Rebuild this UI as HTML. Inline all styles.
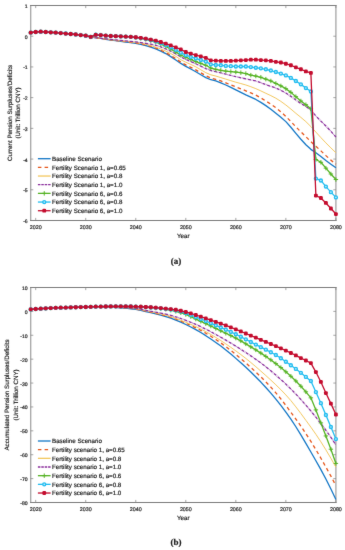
<!DOCTYPE html>
<html><head><meta charset="utf-8"><title>Figure</title>
<style>html,body{margin:0;padding:0;background:#fff;}body{width:345px;height:550px;overflow:hidden;font-family:"Liberation Sans",sans-serif;}svg{display:block}</style>
</head><body>
<svg width="345" height="550" viewBox="0 0 345 550" style="will-change:transform" font-family="Liberation Sans, sans-serif" stroke-linecap="butt">
<style>text{stroke:#1c1c1c;stroke-width:0.18px;text-rendering:geometricPrecision;}</style>
<defs><filter id="soft" x="0" y="0" width="345" height="550" filterUnits="userSpaceOnUse" color-interpolation-filters="sRGB"><feConvolveMatrix order="3" kernelMatrix="0.006 0.062 0.006 0.062 0.728 0.062 0.006 0.062 0.006" edgeMode="duplicate" preserveAlpha="false"/></filter></defs>
<g filter="url(#soft)">
<rect width="345" height="550" fill="#fff"/>
<path d="M30.7,5.0V221.0M335.9,5.0V221.0" stroke="#a6a6a6" stroke-width="1.3" fill="none"/>
<path d="M30.099999999999998,5.5H336.5M30.099999999999998,220.5H336.5" stroke="#7c7c7c" stroke-width="1.0" fill="none"/>
<path d="M35.70,220.5v-2.6M35.70,5.5v2.6" stroke="#808080" stroke-width="0.7"/>
<text x="35.70" y="228.80" font-size="5.3" text-anchor="middle" fill="#1c1c1c">2020</text>
<path d="M85.74,220.5v-2.6M85.74,5.5v2.6" stroke="#808080" stroke-width="0.7"/>
<text x="85.74" y="228.80" font-size="5.3" text-anchor="middle" fill="#1c1c1c">2030</text>
<path d="M135.77,220.5v-2.6M135.77,5.5v2.6" stroke="#808080" stroke-width="0.7"/>
<text x="135.77" y="228.80" font-size="5.3" text-anchor="middle" fill="#1c1c1c">2040</text>
<path d="M185.80,220.5v-2.6M185.80,5.5v2.6" stroke="#808080" stroke-width="0.7"/>
<text x="185.80" y="228.80" font-size="5.3" text-anchor="middle" fill="#1c1c1c">2050</text>
<path d="M235.83,220.5v-2.6M235.83,5.5v2.6" stroke="#808080" stroke-width="0.7"/>
<text x="235.83" y="228.80" font-size="5.3" text-anchor="middle" fill="#1c1c1c">2060</text>
<path d="M285.87,220.5v-2.6M285.87,5.5v2.6" stroke="#808080" stroke-width="0.7"/>
<text x="285.87" y="228.80" font-size="5.3" text-anchor="middle" fill="#1c1c1c">2070</text>
<path d="M335.90,220.5v-2.6M335.90,5.5v2.6" stroke="#808080" stroke-width="0.7"/>
<text x="335.90" y="228.80" font-size="5.3" text-anchor="middle" fill="#1c1c1c">2080</text>
<path d="M30.7,5.50h2.6M335.9,5.50h-2.6" stroke="#808080" stroke-width="0.7"/>
<text x="27.70" y="8.00" font-size="5.1" text-anchor="end" fill="#1c1c1c">1</text>
<path d="M30.7,36.21h2.6M335.9,36.21h-2.6" stroke="#808080" stroke-width="0.7"/>
<text x="27.70" y="38.71" font-size="5.1" text-anchor="end" fill="#1c1c1c">0</text>
<path d="M30.7,66.93h2.6M335.9,66.93h-2.6" stroke="#808080" stroke-width="0.7"/>
<text x="27.70" y="69.43" font-size="5.1" text-anchor="end" fill="#1c1c1c">-1</text>
<path d="M30.7,97.64h2.6M335.9,97.64h-2.6" stroke="#808080" stroke-width="0.7"/>
<text x="27.70" y="100.14" font-size="5.1" text-anchor="end" fill="#1c1c1c">-2</text>
<path d="M30.7,128.36h2.6M335.9,128.36h-2.6" stroke="#808080" stroke-width="0.7"/>
<text x="27.70" y="130.86" font-size="5.1" text-anchor="end" fill="#1c1c1c">-3</text>
<path d="M30.7,159.07h2.6M335.9,159.07h-2.6" stroke="#808080" stroke-width="0.7"/>
<text x="27.70" y="161.57" font-size="5.1" text-anchor="end" fill="#1c1c1c">-4</text>
<path d="M30.7,189.79h2.6M335.9,189.79h-2.6" stroke="#808080" stroke-width="0.7"/>
<text x="27.70" y="192.29" font-size="5.1" text-anchor="end" fill="#1c1c1c">-5</text>
<path d="M30.7,220.50h2.6M335.9,220.50h-2.6" stroke="#808080" stroke-width="0.7"/>
<text x="27.70" y="223.00" font-size="5.1" text-anchor="end" fill="#1c1c1c">-6</text>
<text x="183.30" y="237.70" font-size="6.2" text-anchor="middle" fill="#1c1c1c">Year</text>
<text transform="translate(11.5,113.00) rotate(-90)" font-size="6.2" text-anchor="middle" fill="#1c1c1c">Current Pension Surpluses/Deficits</text>
<text transform="translate(20.4,113.00) rotate(-90)" font-size="6.2" text-anchor="middle" fill="#1c1c1c">(Unit: Trillion CNY)</text>
<path d="M30.70,32.62 L35.70,32.00 L40.71,31.70 L45.71,32.00 L50.71,32.31 L55.72,32.62 L60.72,33.08 L65.72,33.54 L70.73,34.01 L75.73,34.47 L80.73,35.08 L85.74,35.70 L90.74,36.93 L95.74,37.75 L100.75,38.47 L105.75,39.25 L110.75,40.01 L115.76,40.70 L120.76,41.35 L125.76,42.01 L130.77,42.67 L135.77,43.40 L140.77,44.36 L145.78,45.56 L150.78,47.09 L155.78,48.94 L160.79,51.07 L165.79,53.56 L170.79,56.64 L175.80,60.03 L180.80,63.42 L185.80,66.32 L190.80,69.00 L195.81,71.74 L200.81,74.76 L205.81,77.59 L210.82,79.74 L215.82,80.98 L220.82,82.82 L225.83,84.98 L230.83,87.44 L235.83,89.91 L240.84,92.39 L245.84,94.84 L250.84,97.08 L255.85,99.46 L260.85,102.34 L265.85,105.62 L270.86,109.32 L275.86,113.32 L280.86,117.26 L285.87,121.63 L290.87,127.26 L295.87,133.34 L300.88,139.22 L305.88,144.73 L310.88,149.35 L315.89,152.74 L320.89,156.54 L325.89,160.44 L330.90,164.17 L335.90,167.83" fill="none" stroke="#1477C6" stroke-width="1.3" stroke-linejoin="round"/>
<path d="M30.70,32.62 L35.70,32.00 L40.71,31.70 L45.71,32.00 L50.71,32.31 L55.72,32.62 L60.72,33.08 L65.72,33.54 L70.73,34.01 L75.73,34.47 L80.73,35.08 L85.74,35.70 L90.74,36.93 L95.74,37.73 L100.75,38.41 L105.75,39.15 L110.75,39.86 L115.76,40.50 L120.76,41.10 L125.76,41.71 L130.77,42.29 L135.77,42.94 L140.77,43.83 L145.78,44.94 L150.78,46.32 L155.78,48.02 L160.79,50.14 L165.79,52.64 L170.79,55.48 L175.80,58.65 L180.80,62.19 L185.80,64.93 L190.80,67.35 L195.81,69.89 L200.81,72.86 L205.81,75.74 L210.82,78.05 L215.82,79.44 L220.82,80.98 L225.83,82.82 L230.83,84.98 L235.83,86.83 L240.84,88.79 L245.84,90.83 L250.84,92.89 L255.85,95.14 L260.85,97.91 L265.85,101.00 L270.86,104.22 L275.86,107.77 L280.86,111.85 L285.87,116.40 L290.87,121.54 L295.87,126.87 L300.88,131.83 L305.88,136.72 L310.88,141.65 L315.89,146.31 L320.89,150.89 L325.89,155.60 L330.90,160.13 L335.90,164.14" fill="none" stroke="#E5551A" stroke-width="1.3" stroke-dasharray="3.5 3.1" stroke-linejoin="round"/>
<path d="M30.70,32.62 L35.70,32.00 L40.71,31.70 L45.71,32.00 L50.71,32.31 L55.72,32.62 L60.72,33.08 L65.72,33.54 L70.73,34.01 L75.73,34.47 L80.73,35.08 L85.74,35.70 L90.74,36.93 L95.74,37.70 L100.75,38.35 L105.75,39.04 L110.75,39.70 L115.76,40.30 L120.76,40.85 L125.76,41.40 L130.77,41.90 L135.77,42.48 L140.77,43.29 L145.78,44.32 L150.78,45.58 L155.78,47.10 L160.79,48.94 L165.79,51.10 L170.79,53.54 L175.80,56.34 L180.80,59.72 L185.80,62.25 L190.80,64.44 L195.81,66.81 L200.81,69.78 L205.81,72.66 L210.82,74.82 L215.82,76.05 L220.82,77.59 L225.83,79.13 L230.83,80.67 L235.83,82.21 L240.84,83.56 L245.84,84.98 L250.84,86.71 L255.85,88.68 L260.85,90.90 L265.85,93.30 L270.86,95.64 L275.86,98.22 L280.86,101.39 L285.87,105.00 L290.87,109.05 L295.87,113.32 L300.88,117.38 L305.88,121.63 L310.88,126.56 L315.89,132.10 L320.89,137.58 L325.89,142.88 L330.90,147.92 L335.90,152.74" fill="none" stroke="#F3C85F" stroke-width="1.0" stroke-linejoin="round"/>
<path d="M30.70,32.62 L35.70,32.00 L40.71,31.70 L45.71,32.00 L50.71,32.31 L55.72,32.62 L60.72,33.08 L65.72,33.54 L70.73,34.01 L75.73,34.47 L80.73,35.08 L85.74,35.70 L90.74,36.93 L95.74,37.66 L100.75,38.26 L105.75,38.84 L110.75,39.40 L115.76,39.93 L120.76,40.44 L125.76,40.94 L130.77,41.37 L135.77,41.86 L140.77,42.56 L145.78,43.40 L150.78,44.23 L155.78,45.25 L160.79,46.88 L165.79,48.94 L170.79,51.24 L175.80,53.87 L180.80,56.95 L185.80,59.37 L190.80,61.52 L195.81,63.73 L200.81,66.26 L205.81,68.66 L210.82,70.50 L215.82,71.74 L220.82,72.97 L225.83,74.20 L230.83,75.43 L235.83,76.66 L240.84,77.76 L245.84,78.82 L250.84,79.83 L255.85,80.98 L260.85,82.72 L265.85,84.67 L270.86,86.31 L275.86,88.06 L280.86,90.30 L285.87,92.99 L290.87,96.39 L295.87,100.07 L300.88,103.46 L305.88,106.54 L310.88,109.93 L315.89,116.09 L320.89,121.10 L325.89,125.94 L330.90,131.33 L335.90,137.03" fill="none" stroke="#8A2E9C" stroke-width="1.3" stroke-dasharray="3.0 0.75 0.5 0.75" stroke-linejoin="round"/>
<path d="M30.70,32.62 L35.70,32.00 L40.71,31.70 L45.71,32.00 L50.71,32.31 L55.72,32.62 L60.72,33.08 L65.72,33.54 L70.73,34.01 L75.73,34.47 L80.73,35.08 L85.74,35.70 L90.74,36.93 L95.74,34.78 L100.75,35.08 L105.75,35.70 L110.75,36.01 L115.76,36.19 L120.76,36.41 L125.76,36.62 L130.77,36.81 L135.77,37.55 L140.77,38.40 L145.78,39.40 L150.78,40.64 L155.78,42.17 L160.79,44.14 L165.79,46.48 L170.79,49.12 L175.80,52.02 L180.80,55.10 L185.80,57.26 L190.80,59.46 L195.81,61.57 L200.81,63.35 L205.81,65.27 L210.82,68.04 L215.82,69.27 L220.82,70.31 L225.83,71.12 L230.83,71.59 L235.83,72.04 L240.84,72.69 L245.84,73.58 L250.84,75.12 L255.85,76.05 L260.85,77.28 L265.85,79.13 L270.86,80.98 L275.86,83.44 L280.86,85.90 L285.87,88.68 L290.87,92.37 L295.87,96.68 L300.88,101.00 L305.88,104.69 L310.88,108.70 L315.89,159.52 L320.89,162.29 L325.89,168.14 L330.90,173.99 L335.90,179.54" fill="none" stroke="#55B324" stroke-width="1.3" stroke-linejoin="round"/>
<path d="M28.50,32.62h4.4M30.70,30.42v4.4" stroke="#55B324" stroke-width="1.0" fill="none"/>
<path d="M33.50,32.00h4.4M35.70,29.80v4.4" stroke="#55B324" stroke-width="1.0" fill="none"/>
<path d="M38.51,31.70h4.4M40.71,29.50v4.4" stroke="#55B324" stroke-width="1.0" fill="none"/>
<path d="M43.51,32.00h4.4M45.71,29.80v4.4" stroke="#55B324" stroke-width="1.0" fill="none"/>
<path d="M48.51,32.31h4.4M50.71,30.11v4.4" stroke="#55B324" stroke-width="1.0" fill="none"/>
<path d="M53.52,32.62h4.4M55.72,30.42v4.4" stroke="#55B324" stroke-width="1.0" fill="none"/>
<path d="M58.52,33.08h4.4M60.72,30.88v4.4" stroke="#55B324" stroke-width="1.0" fill="none"/>
<path d="M63.52,33.54h4.4M65.72,31.34v4.4" stroke="#55B324" stroke-width="1.0" fill="none"/>
<path d="M68.53,34.01h4.4M70.73,31.81v4.4" stroke="#55B324" stroke-width="1.0" fill="none"/>
<path d="M73.53,34.47h4.4M75.73,32.27v4.4" stroke="#55B324" stroke-width="1.0" fill="none"/>
<path d="M78.53,35.08h4.4M80.73,32.88v4.4" stroke="#55B324" stroke-width="1.0" fill="none"/>
<path d="M83.54,35.70h4.4M85.74,33.50v4.4" stroke="#55B324" stroke-width="1.0" fill="none"/>
<path d="M88.54,36.93h4.4M90.74,34.73v4.4" stroke="#55B324" stroke-width="1.0" fill="none"/>
<path d="M93.54,34.78h4.4M95.74,32.58v4.4" stroke="#55B324" stroke-width="1.0" fill="none"/>
<path d="M98.55,35.08h4.4M100.75,32.88v4.4" stroke="#55B324" stroke-width="1.0" fill="none"/>
<path d="M103.55,35.70h4.4M105.75,33.50v4.4" stroke="#55B324" stroke-width="1.0" fill="none"/>
<path d="M108.55,36.01h4.4M110.75,33.81v4.4" stroke="#55B324" stroke-width="1.0" fill="none"/>
<path d="M113.56,36.19h4.4M115.76,33.99v4.4" stroke="#55B324" stroke-width="1.0" fill="none"/>
<path d="M118.56,36.41h4.4M120.76,34.21v4.4" stroke="#55B324" stroke-width="1.0" fill="none"/>
<path d="M123.56,36.62h4.4M125.76,34.42v4.4" stroke="#55B324" stroke-width="1.0" fill="none"/>
<path d="M128.57,36.81h4.4M130.77,34.61v4.4" stroke="#55B324" stroke-width="1.0" fill="none"/>
<path d="M133.57,37.55h4.4M135.77,35.35v4.4" stroke="#55B324" stroke-width="1.0" fill="none"/>
<path d="M138.57,38.40h4.4M140.77,36.20v4.4" stroke="#55B324" stroke-width="1.0" fill="none"/>
<path d="M143.58,39.40h4.4M145.78,37.20v4.4" stroke="#55B324" stroke-width="1.0" fill="none"/>
<path d="M148.58,40.64h4.4M150.78,38.44v4.4" stroke="#55B324" stroke-width="1.0" fill="none"/>
<path d="M153.58,42.17h4.4M155.78,39.97v4.4" stroke="#55B324" stroke-width="1.0" fill="none"/>
<path d="M158.59,44.14h4.4M160.79,41.94v4.4" stroke="#55B324" stroke-width="1.0" fill="none"/>
<path d="M163.59,46.48h4.4M165.79,44.28v4.4" stroke="#55B324" stroke-width="1.0" fill="none"/>
<path d="M168.59,49.12h4.4M170.79,46.92v4.4" stroke="#55B324" stroke-width="1.0" fill="none"/>
<path d="M173.60,52.02h4.4M175.80,49.82v4.4" stroke="#55B324" stroke-width="1.0" fill="none"/>
<path d="M178.60,55.10h4.4M180.80,52.90v4.4" stroke="#55B324" stroke-width="1.0" fill="none"/>
<path d="M183.60,57.26h4.4M185.80,55.06v4.4" stroke="#55B324" stroke-width="1.0" fill="none"/>
<path d="M188.60,59.46h4.4M190.80,57.26v4.4" stroke="#55B324" stroke-width="1.0" fill="none"/>
<path d="M193.61,61.57h4.4M195.81,59.37v4.4" stroke="#55B324" stroke-width="1.0" fill="none"/>
<path d="M198.61,63.35h4.4M200.81,61.15v4.4" stroke="#55B324" stroke-width="1.0" fill="none"/>
<path d="M203.61,65.27h4.4M205.81,63.07v4.4" stroke="#55B324" stroke-width="1.0" fill="none"/>
<path d="M208.62,68.04h4.4M210.82,65.84v4.4" stroke="#55B324" stroke-width="1.0" fill="none"/>
<path d="M213.62,69.27h4.4M215.82,67.07v4.4" stroke="#55B324" stroke-width="1.0" fill="none"/>
<path d="M218.62,70.31h4.4M220.82,68.11v4.4" stroke="#55B324" stroke-width="1.0" fill="none"/>
<path d="M223.63,71.12h4.4M225.83,68.92v4.4" stroke="#55B324" stroke-width="1.0" fill="none"/>
<path d="M228.63,71.59h4.4M230.83,69.39v4.4" stroke="#55B324" stroke-width="1.0" fill="none"/>
<path d="M233.63,72.04h4.4M235.83,69.84v4.4" stroke="#55B324" stroke-width="1.0" fill="none"/>
<path d="M238.64,72.69h4.4M240.84,70.49v4.4" stroke="#55B324" stroke-width="1.0" fill="none"/>
<path d="M243.64,73.58h4.4M245.84,71.38v4.4" stroke="#55B324" stroke-width="1.0" fill="none"/>
<path d="M248.64,75.12h4.4M250.84,72.92v4.4" stroke="#55B324" stroke-width="1.0" fill="none"/>
<path d="M253.65,76.05h4.4M255.85,73.85v4.4" stroke="#55B324" stroke-width="1.0" fill="none"/>
<path d="M258.65,77.28h4.4M260.85,75.08v4.4" stroke="#55B324" stroke-width="1.0" fill="none"/>
<path d="M263.65,79.13h4.4M265.85,76.93v4.4" stroke="#55B324" stroke-width="1.0" fill="none"/>
<path d="M268.66,80.98h4.4M270.86,78.78v4.4" stroke="#55B324" stroke-width="1.0" fill="none"/>
<path d="M273.66,83.44h4.4M275.86,81.24v4.4" stroke="#55B324" stroke-width="1.0" fill="none"/>
<path d="M278.66,85.90h4.4M280.86,83.70v4.4" stroke="#55B324" stroke-width="1.0" fill="none"/>
<path d="M283.67,88.68h4.4M285.87,86.48v4.4" stroke="#55B324" stroke-width="1.0" fill="none"/>
<path d="M288.67,92.37h4.4M290.87,90.17v4.4" stroke="#55B324" stroke-width="1.0" fill="none"/>
<path d="M293.67,96.68h4.4M295.87,94.48v4.4" stroke="#55B324" stroke-width="1.0" fill="none"/>
<path d="M298.68,101.00h4.4M300.88,98.80v4.4" stroke="#55B324" stroke-width="1.0" fill="none"/>
<path d="M303.68,104.69h4.4M305.88,102.49v4.4" stroke="#55B324" stroke-width="1.0" fill="none"/>
<path d="M308.68,108.70h4.4M310.88,106.50v4.4" stroke="#55B324" stroke-width="1.0" fill="none"/>
<path d="M313.69,159.52h4.4M315.89,157.32v4.4" stroke="#55B324" stroke-width="1.0" fill="none"/>
<path d="M318.69,162.29h4.4M320.89,160.09v4.4" stroke="#55B324" stroke-width="1.0" fill="none"/>
<path d="M323.69,168.14h4.4M325.89,165.94v4.4" stroke="#55B324" stroke-width="1.0" fill="none"/>
<path d="M328.70,173.99h4.4M330.90,171.79v4.4" stroke="#55B324" stroke-width="1.0" fill="none"/>
<path d="M333.70,179.54h4.4M335.90,177.34v4.4" stroke="#55B324" stroke-width="1.0" fill="none"/>
<path d="M30.70,32.62 L35.70,32.00 L40.71,31.70 L45.71,32.00 L50.71,32.31 L55.72,32.62 L60.72,33.08 L65.72,33.54 L70.73,34.01 L75.73,34.47 L80.73,35.08 L85.74,35.70 L90.74,36.93 L95.74,34.78 L100.75,35.08 L105.75,35.70 L110.75,36.01 L115.76,36.19 L120.76,36.41 L125.76,36.62 L130.77,36.81 L135.77,37.39 L140.77,38.09 L145.78,38.93 L150.78,40.04 L155.78,41.40 L160.79,43.02 L165.79,44.94 L170.79,47.26 L175.80,49.87 L180.80,52.64 L185.80,55.10 L190.80,56.95 L195.81,58.49 L200.81,60.03 L205.81,61.57 L210.82,64.34 L215.82,64.96 L220.82,65.27 L225.83,65.88 L230.83,66.19 L235.83,66.50 L240.84,66.50 L245.84,66.50 L250.84,67.12 L255.85,67.73 L260.85,68.35 L265.85,69.27 L270.86,70.50 L275.86,72.04 L280.86,73.58 L285.87,75.43 L290.87,77.90 L295.87,80.98 L300.88,84.36 L305.88,88.06 L310.88,91.45 L315.89,178.61 L320.89,180.46 L325.89,186.62 L330.90,192.16 L335.90,197.40" fill="none" stroke="#22BDF0" stroke-width="1.3" stroke-linejoin="round"/>
<circle cx="30.70" cy="32.62" r="1.5" fill="#c8ecfb" stroke="#22BDF0" stroke-width="1.35"/>
<circle cx="35.70" cy="32.00" r="1.5" fill="#c8ecfb" stroke="#22BDF0" stroke-width="1.35"/>
<circle cx="40.71" cy="31.70" r="1.5" fill="#c8ecfb" stroke="#22BDF0" stroke-width="1.35"/>
<circle cx="45.71" cy="32.00" r="1.5" fill="#c8ecfb" stroke="#22BDF0" stroke-width="1.35"/>
<circle cx="50.71" cy="32.31" r="1.5" fill="#c8ecfb" stroke="#22BDF0" stroke-width="1.35"/>
<circle cx="55.72" cy="32.62" r="1.5" fill="#c8ecfb" stroke="#22BDF0" stroke-width="1.35"/>
<circle cx="60.72" cy="33.08" r="1.5" fill="#c8ecfb" stroke="#22BDF0" stroke-width="1.35"/>
<circle cx="65.72" cy="33.54" r="1.5" fill="#c8ecfb" stroke="#22BDF0" stroke-width="1.35"/>
<circle cx="70.73" cy="34.01" r="1.5" fill="#c8ecfb" stroke="#22BDF0" stroke-width="1.35"/>
<circle cx="75.73" cy="34.47" r="1.5" fill="#c8ecfb" stroke="#22BDF0" stroke-width="1.35"/>
<circle cx="80.73" cy="35.08" r="1.5" fill="#c8ecfb" stroke="#22BDF0" stroke-width="1.35"/>
<circle cx="85.74" cy="35.70" r="1.5" fill="#c8ecfb" stroke="#22BDF0" stroke-width="1.35"/>
<circle cx="90.74" cy="36.93" r="1.5" fill="#c8ecfb" stroke="#22BDF0" stroke-width="1.35"/>
<circle cx="95.74" cy="34.78" r="1.5" fill="#c8ecfb" stroke="#22BDF0" stroke-width="1.35"/>
<circle cx="100.75" cy="35.08" r="1.5" fill="#c8ecfb" stroke="#22BDF0" stroke-width="1.35"/>
<circle cx="105.75" cy="35.70" r="1.5" fill="#c8ecfb" stroke="#22BDF0" stroke-width="1.35"/>
<circle cx="110.75" cy="36.01" r="1.5" fill="#c8ecfb" stroke="#22BDF0" stroke-width="1.35"/>
<circle cx="115.76" cy="36.19" r="1.5" fill="#c8ecfb" stroke="#22BDF0" stroke-width="1.35"/>
<circle cx="120.76" cy="36.41" r="1.5" fill="#c8ecfb" stroke="#22BDF0" stroke-width="1.35"/>
<circle cx="125.76" cy="36.62" r="1.5" fill="#c8ecfb" stroke="#22BDF0" stroke-width="1.35"/>
<circle cx="130.77" cy="36.81" r="1.5" fill="#c8ecfb" stroke="#22BDF0" stroke-width="1.35"/>
<circle cx="135.77" cy="37.39" r="1.5" fill="#c8ecfb" stroke="#22BDF0" stroke-width="1.35"/>
<circle cx="140.77" cy="38.09" r="1.5" fill="#c8ecfb" stroke="#22BDF0" stroke-width="1.35"/>
<circle cx="145.78" cy="38.93" r="1.5" fill="#c8ecfb" stroke="#22BDF0" stroke-width="1.35"/>
<circle cx="150.78" cy="40.04" r="1.5" fill="#c8ecfb" stroke="#22BDF0" stroke-width="1.35"/>
<circle cx="155.78" cy="41.40" r="1.5" fill="#c8ecfb" stroke="#22BDF0" stroke-width="1.35"/>
<circle cx="160.79" cy="43.02" r="1.5" fill="#c8ecfb" stroke="#22BDF0" stroke-width="1.35"/>
<circle cx="165.79" cy="44.94" r="1.5" fill="#c8ecfb" stroke="#22BDF0" stroke-width="1.35"/>
<circle cx="170.79" cy="47.26" r="1.5" fill="#c8ecfb" stroke="#22BDF0" stroke-width="1.35"/>
<circle cx="175.80" cy="49.87" r="1.5" fill="#c8ecfb" stroke="#22BDF0" stroke-width="1.35"/>
<circle cx="180.80" cy="52.64" r="1.5" fill="#c8ecfb" stroke="#22BDF0" stroke-width="1.35"/>
<circle cx="185.80" cy="55.10" r="1.5" fill="#c8ecfb" stroke="#22BDF0" stroke-width="1.35"/>
<circle cx="190.80" cy="56.95" r="1.5" fill="#c8ecfb" stroke="#22BDF0" stroke-width="1.35"/>
<circle cx="195.81" cy="58.49" r="1.5" fill="#c8ecfb" stroke="#22BDF0" stroke-width="1.35"/>
<circle cx="200.81" cy="60.03" r="1.5" fill="#c8ecfb" stroke="#22BDF0" stroke-width="1.35"/>
<circle cx="205.81" cy="61.57" r="1.5" fill="#c8ecfb" stroke="#22BDF0" stroke-width="1.35"/>
<circle cx="210.82" cy="64.34" r="1.5" fill="#c8ecfb" stroke="#22BDF0" stroke-width="1.35"/>
<circle cx="215.82" cy="64.96" r="1.5" fill="#c8ecfb" stroke="#22BDF0" stroke-width="1.35"/>
<circle cx="220.82" cy="65.27" r="1.5" fill="#c8ecfb" stroke="#22BDF0" stroke-width="1.35"/>
<circle cx="225.83" cy="65.88" r="1.5" fill="#c8ecfb" stroke="#22BDF0" stroke-width="1.35"/>
<circle cx="230.83" cy="66.19" r="1.5" fill="#c8ecfb" stroke="#22BDF0" stroke-width="1.35"/>
<circle cx="235.83" cy="66.50" r="1.5" fill="#c8ecfb" stroke="#22BDF0" stroke-width="1.35"/>
<circle cx="240.84" cy="66.50" r="1.5" fill="#c8ecfb" stroke="#22BDF0" stroke-width="1.35"/>
<circle cx="245.84" cy="66.50" r="1.5" fill="#c8ecfb" stroke="#22BDF0" stroke-width="1.35"/>
<circle cx="250.84" cy="67.12" r="1.5" fill="#c8ecfb" stroke="#22BDF0" stroke-width="1.35"/>
<circle cx="255.85" cy="67.73" r="1.5" fill="#c8ecfb" stroke="#22BDF0" stroke-width="1.35"/>
<circle cx="260.85" cy="68.35" r="1.5" fill="#c8ecfb" stroke="#22BDF0" stroke-width="1.35"/>
<circle cx="265.85" cy="69.27" r="1.5" fill="#c8ecfb" stroke="#22BDF0" stroke-width="1.35"/>
<circle cx="270.86" cy="70.50" r="1.5" fill="#c8ecfb" stroke="#22BDF0" stroke-width="1.35"/>
<circle cx="275.86" cy="72.04" r="1.5" fill="#c8ecfb" stroke="#22BDF0" stroke-width="1.35"/>
<circle cx="280.86" cy="73.58" r="1.5" fill="#c8ecfb" stroke="#22BDF0" stroke-width="1.35"/>
<circle cx="285.87" cy="75.43" r="1.5" fill="#c8ecfb" stroke="#22BDF0" stroke-width="1.35"/>
<circle cx="290.87" cy="77.90" r="1.5" fill="#c8ecfb" stroke="#22BDF0" stroke-width="1.35"/>
<circle cx="295.87" cy="80.98" r="1.5" fill="#c8ecfb" stroke="#22BDF0" stroke-width="1.35"/>
<circle cx="300.88" cy="84.36" r="1.5" fill="#c8ecfb" stroke="#22BDF0" stroke-width="1.35"/>
<circle cx="305.88" cy="88.06" r="1.5" fill="#c8ecfb" stroke="#22BDF0" stroke-width="1.35"/>
<circle cx="310.88" cy="91.45" r="1.5" fill="#c8ecfb" stroke="#22BDF0" stroke-width="1.35"/>
<circle cx="315.89" cy="178.61" r="1.5" fill="#c8ecfb" stroke="#22BDF0" stroke-width="1.35"/>
<circle cx="320.89" cy="180.46" r="1.5" fill="#c8ecfb" stroke="#22BDF0" stroke-width="1.35"/>
<circle cx="325.89" cy="186.62" r="1.5" fill="#c8ecfb" stroke="#22BDF0" stroke-width="1.35"/>
<circle cx="330.90" cy="192.16" r="1.5" fill="#c8ecfb" stroke="#22BDF0" stroke-width="1.35"/>
<circle cx="335.90" cy="197.40" r="1.5" fill="#c8ecfb" stroke="#22BDF0" stroke-width="1.35"/>
<path d="M30.70,32.62 L35.70,32.00 L40.71,31.70 L45.71,32.00 L50.71,32.31 L55.72,32.62 L60.72,33.08 L65.72,33.54 L70.73,34.01 L75.73,34.47 L80.73,35.08 L85.74,35.70 L90.74,36.93 L95.74,34.78 L100.75,35.08 L105.75,35.70 L110.75,36.01 L115.76,36.19 L120.76,36.41 L125.76,36.62 L130.77,36.81 L135.77,37.24 L140.77,37.86 L145.78,38.60 L150.78,39.61 L155.78,40.63 L160.79,42.01 L165.79,43.58 L170.79,45.40 L175.80,47.40 L180.80,49.41 L185.80,52.02 L190.80,53.56 L195.81,55.10 L200.81,56.34 L205.81,57.88 L210.82,60.34 L215.82,60.65 L220.82,60.96 L225.83,60.96 L230.83,60.96 L235.83,60.65 L240.84,60.34 L245.84,60.03 L250.84,59.72 L255.85,59.72 L260.85,60.03 L265.85,60.34 L270.86,60.96 L275.86,61.88 L280.86,62.50 L285.87,63.73 L290.87,65.27 L295.87,67.42 L300.88,69.27 L305.88,71.43 L310.88,72.97 L315.89,195.55 L320.89,198.02 L325.89,202.94 L330.90,208.49 L335.90,214.03" fill="none" stroke="#C40C2E" stroke-width="1.3" stroke-linejoin="round"/>
<rect x="28.80" y="30.72" width="3.8" height="3.8" rx="1.2" fill="#C40C2E"/>
<rect x="33.80" y="30.10" width="3.8" height="3.8" rx="1.2" fill="#C40C2E"/>
<rect x="38.81" y="29.80" width="3.8" height="3.8" rx="1.2" fill="#C40C2E"/>
<rect x="43.81" y="30.10" width="3.8" height="3.8" rx="1.2" fill="#C40C2E"/>
<rect x="48.81" y="30.41" width="3.8" height="3.8" rx="1.2" fill="#C40C2E"/>
<rect x="53.82" y="30.72" width="3.8" height="3.8" rx="1.2" fill="#C40C2E"/>
<rect x="58.82" y="31.18" width="3.8" height="3.8" rx="1.2" fill="#C40C2E"/>
<rect x="63.82" y="31.64" width="3.8" height="3.8" rx="1.2" fill="#C40C2E"/>
<rect x="68.83" y="32.11" width="3.8" height="3.8" rx="1.2" fill="#C40C2E"/>
<rect x="73.83" y="32.57" width="3.8" height="3.8" rx="1.2" fill="#C40C2E"/>
<rect x="78.83" y="33.18" width="3.8" height="3.8" rx="1.2" fill="#C40C2E"/>
<rect x="83.84" y="33.80" width="3.8" height="3.8" rx="1.2" fill="#C40C2E"/>
<rect x="88.84" y="35.03" width="3.8" height="3.8" rx="1.2" fill="#C40C2E"/>
<rect x="93.84" y="32.88" width="3.8" height="3.8" rx="1.2" fill="#C40C2E"/>
<rect x="98.85" y="33.18" width="3.8" height="3.8" rx="1.2" fill="#C40C2E"/>
<rect x="103.85" y="33.80" width="3.8" height="3.8" rx="1.2" fill="#C40C2E"/>
<rect x="108.85" y="34.11" width="3.8" height="3.8" rx="1.2" fill="#C40C2E"/>
<rect x="113.86" y="34.29" width="3.8" height="3.8" rx="1.2" fill="#C40C2E"/>
<rect x="118.86" y="34.51" width="3.8" height="3.8" rx="1.2" fill="#C40C2E"/>
<rect x="123.86" y="34.72" width="3.8" height="3.8" rx="1.2" fill="#C40C2E"/>
<rect x="128.87" y="34.91" width="3.8" height="3.8" rx="1.2" fill="#C40C2E"/>
<rect x="133.87" y="35.34" width="3.8" height="3.8" rx="1.2" fill="#C40C2E"/>
<rect x="138.87" y="35.96" width="3.8" height="3.8" rx="1.2" fill="#C40C2E"/>
<rect x="143.88" y="36.70" width="3.8" height="3.8" rx="1.2" fill="#C40C2E"/>
<rect x="148.88" y="37.71" width="3.8" height="3.8" rx="1.2" fill="#C40C2E"/>
<rect x="153.88" y="38.73" width="3.8" height="3.8" rx="1.2" fill="#C40C2E"/>
<rect x="158.89" y="40.11" width="3.8" height="3.8" rx="1.2" fill="#C40C2E"/>
<rect x="163.89" y="41.68" width="3.8" height="3.8" rx="1.2" fill="#C40C2E"/>
<rect x="168.89" y="43.50" width="3.8" height="3.8" rx="1.2" fill="#C40C2E"/>
<rect x="173.90" y="45.50" width="3.8" height="3.8" rx="1.2" fill="#C40C2E"/>
<rect x="178.90" y="47.51" width="3.8" height="3.8" rx="1.2" fill="#C40C2E"/>
<rect x="183.90" y="50.12" width="3.8" height="3.8" rx="1.2" fill="#C40C2E"/>
<rect x="188.90" y="51.66" width="3.8" height="3.8" rx="1.2" fill="#C40C2E"/>
<rect x="193.91" y="53.20" width="3.8" height="3.8" rx="1.2" fill="#C40C2E"/>
<rect x="198.91" y="54.44" width="3.8" height="3.8" rx="1.2" fill="#C40C2E"/>
<rect x="203.91" y="55.98" width="3.8" height="3.8" rx="1.2" fill="#C40C2E"/>
<rect x="208.92" y="58.44" width="3.8" height="3.8" rx="1.2" fill="#C40C2E"/>
<rect x="213.92" y="58.75" width="3.8" height="3.8" rx="1.2" fill="#C40C2E"/>
<rect x="218.92" y="59.06" width="3.8" height="3.8" rx="1.2" fill="#C40C2E"/>
<rect x="223.93" y="59.06" width="3.8" height="3.8" rx="1.2" fill="#C40C2E"/>
<rect x="228.93" y="59.06" width="3.8" height="3.8" rx="1.2" fill="#C40C2E"/>
<rect x="233.93" y="58.75" width="3.8" height="3.8" rx="1.2" fill="#C40C2E"/>
<rect x="238.94" y="58.44" width="3.8" height="3.8" rx="1.2" fill="#C40C2E"/>
<rect x="243.94" y="58.13" width="3.8" height="3.8" rx="1.2" fill="#C40C2E"/>
<rect x="248.94" y="57.82" width="3.8" height="3.8" rx="1.2" fill="#C40C2E"/>
<rect x="253.95" y="57.82" width="3.8" height="3.8" rx="1.2" fill="#C40C2E"/>
<rect x="258.95" y="58.13" width="3.8" height="3.8" rx="1.2" fill="#C40C2E"/>
<rect x="263.95" y="58.44" width="3.8" height="3.8" rx="1.2" fill="#C40C2E"/>
<rect x="268.96" y="59.06" width="3.8" height="3.8" rx="1.2" fill="#C40C2E"/>
<rect x="273.96" y="59.98" width="3.8" height="3.8" rx="1.2" fill="#C40C2E"/>
<rect x="278.96" y="60.60" width="3.8" height="3.8" rx="1.2" fill="#C40C2E"/>
<rect x="283.97" y="61.83" width="3.8" height="3.8" rx="1.2" fill="#C40C2E"/>
<rect x="288.97" y="63.37" width="3.8" height="3.8" rx="1.2" fill="#C40C2E"/>
<rect x="293.97" y="65.52" width="3.8" height="3.8" rx="1.2" fill="#C40C2E"/>
<rect x="298.98" y="67.37" width="3.8" height="3.8" rx="1.2" fill="#C40C2E"/>
<rect x="303.98" y="69.53" width="3.8" height="3.8" rx="1.2" fill="#C40C2E"/>
<rect x="308.98" y="71.07" width="3.8" height="3.8" rx="1.2" fill="#C40C2E"/>
<rect x="313.99" y="193.65" width="3.8" height="3.8" rx="1.2" fill="#C40C2E"/>
<rect x="318.99" y="196.12" width="3.8" height="3.8" rx="1.2" fill="#C40C2E"/>
<rect x="323.99" y="201.04" width="3.8" height="3.8" rx="1.2" fill="#C40C2E"/>
<rect x="329.00" y="206.59" width="3.8" height="3.8" rx="1.2" fill="#C40C2E"/>
<rect x="334.00" y="212.13" width="3.8" height="3.8" rx="1.2" fill="#C40C2E"/>
<path d="M37.9,158.70H50.6" stroke="#1477C6" stroke-width="1.3"/>
<text x="52" y="160.90" font-size="6.2" fill="#1c1c1c">Baseline Scenario</text>
<path d="M37.9,167.37H50.6" stroke="#E5551A" stroke-width="1.3" stroke-dasharray="3.5 3.2"/>
<text x="52" y="169.57" font-size="6.2" fill="#1c1c1c">Fertility Scenario 1, a=0.65</text>
<path d="M37.9,176.04H50.6" stroke="#F3C85F" stroke-width="1.3"/>
<text x="52" y="178.24" font-size="6.2" fill="#1c1c1c">Fertility Scenario 1, a=0.8</text>
<path d="M37.9,184.71H50.6" stroke="#8A2E9C" stroke-width="1.3" stroke-dasharray="2.5 0.9"/>
<text x="52" y="186.91" font-size="6.2" fill="#1c1c1c">Fertility Scenario 1, a=1.0</text>
<path d="M37.9,193.38H50.6" stroke="#55B324" stroke-width="1.3"/>
<path d="M42.05,193.38h4.4M44.25,191.18v4.4" stroke="#55B324" stroke-width="1.0" fill="none"/>
<text x="52" y="195.58" font-size="6.2" fill="#1c1c1c">Fertility Scenario 6, a=0.6</text>
<path d="M37.9,202.05H50.6" stroke="#22BDF0" stroke-width="1.3"/>
<circle cx="44.25" cy="202.05" r="1.5" fill="#c8ecfb" stroke="#22BDF0" stroke-width="1.35"/>
<text x="52" y="204.25" font-size="6.2" fill="#1c1c1c">Fertility Scenario 6, a=0.8</text>
<path d="M37.9,210.72H50.6" stroke="#C40C2E" stroke-width="1.3"/>
<rect x="42.35" y="208.82" width="3.8" height="3.8" rx="1.2" fill="#C40C2E"/>
<text x="52" y="212.92" font-size="6.2" fill="#1c1c1c">Fertility Scenario 6, a=1.0</text>
<text x="176" y="263.6" font-size="9" font-weight="bold" text-anchor="middle" font-family="Liberation Serif, serif" fill="#222">(a)</text>
<path d="M30.7,287.0V503.0M335.9,287.0V503.0" stroke="#a6a6a6" stroke-width="1.3" fill="none"/>
<path d="M30.099999999999998,287.5H336.5M30.099999999999998,502.5H336.5" stroke="#7c7c7c" stroke-width="1.0" fill="none"/>
<path d="M35.70,502.5v-2.6M35.70,287.5v2.6" stroke="#808080" stroke-width="0.7"/>
<text x="35.70" y="510.80" font-size="5.3" text-anchor="middle" fill="#1c1c1c">2020</text>
<path d="M85.74,502.5v-2.6M85.74,287.5v2.6" stroke="#808080" stroke-width="0.7"/>
<text x="85.74" y="510.80" font-size="5.3" text-anchor="middle" fill="#1c1c1c">2030</text>
<path d="M135.77,502.5v-2.6M135.77,287.5v2.6" stroke="#808080" stroke-width="0.7"/>
<text x="135.77" y="510.80" font-size="5.3" text-anchor="middle" fill="#1c1c1c">2040</text>
<path d="M185.80,502.5v-2.6M185.80,287.5v2.6" stroke="#808080" stroke-width="0.7"/>
<text x="185.80" y="510.80" font-size="5.3" text-anchor="middle" fill="#1c1c1c">2050</text>
<path d="M235.83,502.5v-2.6M235.83,287.5v2.6" stroke="#808080" stroke-width="0.7"/>
<text x="235.83" y="510.80" font-size="5.3" text-anchor="middle" fill="#1c1c1c">2060</text>
<path d="M285.87,502.5v-2.6M285.87,287.5v2.6" stroke="#808080" stroke-width="0.7"/>
<text x="285.87" y="510.80" font-size="5.3" text-anchor="middle" fill="#1c1c1c">2070</text>
<path d="M335.90,502.5v-2.6M335.90,287.5v2.6" stroke="#808080" stroke-width="0.7"/>
<text x="335.90" y="510.80" font-size="5.3" text-anchor="middle" fill="#1c1c1c">2080</text>
<path d="M30.7,287.50h2.6M335.9,287.50h-2.6" stroke="#808080" stroke-width="0.7"/>
<text x="27.70" y="290.00" font-size="5.1" text-anchor="end" fill="#1c1c1c">10</text>
<path d="M30.7,311.39h2.6M335.9,311.39h-2.6" stroke="#808080" stroke-width="0.7"/>
<text x="27.70" y="313.89" font-size="5.1" text-anchor="end" fill="#1c1c1c">0</text>
<path d="M30.7,335.28h2.6M335.9,335.28h-2.6" stroke="#808080" stroke-width="0.7"/>
<text x="27.70" y="337.78" font-size="5.1" text-anchor="end" fill="#1c1c1c">-10</text>
<path d="M30.7,359.17h2.6M335.9,359.17h-2.6" stroke="#808080" stroke-width="0.7"/>
<text x="27.70" y="361.67" font-size="5.1" text-anchor="end" fill="#1c1c1c">-20</text>
<path d="M30.7,383.06h2.6M335.9,383.06h-2.6" stroke="#808080" stroke-width="0.7"/>
<text x="27.70" y="385.56" font-size="5.1" text-anchor="end" fill="#1c1c1c">-30</text>
<path d="M30.7,406.94h2.6M335.9,406.94h-2.6" stroke="#808080" stroke-width="0.7"/>
<text x="27.70" y="409.44" font-size="5.1" text-anchor="end" fill="#1c1c1c">-40</text>
<path d="M30.7,430.83h2.6M335.9,430.83h-2.6" stroke="#808080" stroke-width="0.7"/>
<text x="27.70" y="433.33" font-size="5.1" text-anchor="end" fill="#1c1c1c">-50</text>
<path d="M30.7,454.72h2.6M335.9,454.72h-2.6" stroke="#808080" stroke-width="0.7"/>
<text x="27.70" y="457.22" font-size="5.1" text-anchor="end" fill="#1c1c1c">-60</text>
<path d="M30.7,478.61h2.6M335.9,478.61h-2.6" stroke="#808080" stroke-width="0.7"/>
<text x="27.70" y="481.11" font-size="5.1" text-anchor="end" fill="#1c1c1c">-70</text>
<path d="M30.7,502.50h2.6M335.9,502.50h-2.6" stroke="#808080" stroke-width="0.7"/>
<text x="27.70" y="505.00" font-size="5.1" text-anchor="end" fill="#1c1c1c">-80</text>
<text x="183.30" y="519.70" font-size="6.2" text-anchor="middle" fill="#1c1c1c">Year</text>
<text transform="translate(9.4,395.00) rotate(-90)" font-size="6.2" text-anchor="middle" fill="#1c1c1c">Accumulated Pension Surpluses/Deficits</text>
<text transform="translate(18.2,395.00) rotate(-90)" font-size="6.2" text-anchor="middle" fill="#1c1c1c">(Unit: Trillion CNY)</text>
<path d="M30.70,309.41 L35.70,309.00 L40.71,308.69 L45.71,308.40 L50.71,308.06 L55.72,307.80 L60.72,307.70 L65.72,307.61 L70.73,307.43 L75.73,307.24 L80.73,307.12 L85.74,307.00 L90.74,306.79 L95.74,306.64 L100.75,306.72 L105.75,306.88 L110.75,307.10 L115.76,307.41 L120.76,307.78 L125.76,308.21 L130.77,308.75 L135.77,309.41 L140.77,310.45 L145.78,311.55 L150.78,312.71 L155.78,313.92 L160.79,315.12 L165.79,316.51 L170.79,318.14 L175.80,320.04 L180.80,322.19 L185.80,324.52 L190.80,327.01 L195.81,329.68 L200.81,332.56 L205.81,335.67 L210.82,338.97 L215.82,342.42 L220.82,346.10 L225.83,350.00 L230.83,354.11 L235.83,358.38 L240.84,362.80 L245.84,367.35 L250.84,372.06 L255.85,376.94 L260.85,382.07 L265.85,387.46 L270.86,393.14 L275.86,399.12 L280.86,405.40 L285.87,412.04 L290.87,419.14 L295.87,426.76 L300.88,434.86 L305.88,443.33 L310.88,452.01 L315.89,460.70 L320.89,469.65 L325.89,479.03 L330.90,489.01 L335.90,499.43" fill="none" stroke="#1477C6" stroke-width="1.3" stroke-linejoin="round"/>
<path d="M30.70,309.41 L35.70,309.00 L40.71,308.69 L45.71,308.40 L50.71,308.06 L55.72,307.80 L60.72,307.70 L65.72,307.61 L70.73,307.43 L75.73,307.24 L80.73,307.12 L85.74,307.00 L90.74,306.79 L95.74,306.64 L100.75,306.70 L105.75,306.83 L110.75,307.02 L115.76,307.28 L120.76,307.60 L125.76,307.97 L130.77,308.45 L135.77,309.05 L140.77,310.04 L145.78,311.11 L150.78,312.22 L155.78,313.37 L160.79,314.47 L165.79,315.75 L170.79,317.25 L175.80,319.00 L180.80,321.00 L185.80,323.15 L190.80,325.40 L195.81,327.79 L200.81,330.38 L205.81,333.20 L210.82,336.23 L215.82,339.45 L220.82,342.91 L225.83,346.60 L230.83,350.49 L235.83,354.52 L240.84,358.69 L245.84,363.00 L250.84,367.46 L255.85,372.07 L260.85,376.89 L265.85,381.90 L270.86,387.18 L275.86,392.83 L280.86,398.96 L285.87,405.46 L290.87,412.20 L295.87,419.07 L300.88,426.17 L305.88,433.60 L310.88,441.44 L315.89,449.64 L320.89,458.21 L325.89,467.04 L330.90,476.17 L335.90,485.61" fill="none" stroke="#E5551A" stroke-width="1.3" stroke-dasharray="3.5 3.1" stroke-linejoin="round"/>
<path d="M30.70,309.41 L35.70,309.00 L40.71,308.69 L45.71,308.40 L50.71,308.06 L55.72,307.80 L60.72,307.70 L65.72,307.61 L70.73,307.43 L75.73,307.24 L80.73,307.12 L85.74,307.00 L90.74,306.79 L95.74,306.64 L100.75,306.69 L105.75,306.79 L110.75,306.93 L115.76,307.14 L120.76,307.41 L125.76,307.73 L130.77,308.20 L135.77,308.81 L140.77,309.73 L145.78,310.71 L150.78,311.76 L155.78,312.86 L160.79,313.94 L165.79,315.20 L170.79,316.66 L175.80,318.34 L180.80,320.25 L185.80,322.29 L190.80,324.39 L195.81,326.60 L200.81,329.02 L205.81,331.66 L210.82,334.48 L215.82,337.45 L220.82,340.59 L225.83,343.89 L230.83,347.33 L235.83,350.89 L240.84,354.58 L245.84,358.44 L250.84,362.50 L255.85,366.74 L260.85,371.11 L265.85,375.56 L270.86,380.11 L275.86,384.81 L280.86,389.71 L285.87,394.93 L290.87,400.59 L295.87,406.87 L300.88,413.50 L305.88,420.32 L310.88,427.18 L315.89,434.30 L320.89,441.83 L325.89,449.83 L330.90,458.28 L335.90,467.19" fill="none" stroke="#F3C85F" stroke-width="1.0" stroke-linejoin="round"/>
<path d="M30.70,309.41 L35.70,309.00 L40.71,308.69 L45.71,308.40 L50.71,308.06 L55.72,307.80 L60.72,307.70 L65.72,307.61 L70.73,307.43 L75.73,307.24 L80.73,307.12 L85.74,307.00 L90.74,306.79 L95.74,306.64 L100.75,306.68 L105.75,306.76 L110.75,306.87 L115.76,307.03 L120.76,307.23 L125.76,307.49 L130.77,307.89 L135.77,308.45 L140.77,309.37 L145.78,310.33 L150.78,311.28 L155.78,312.19 L160.79,313.08 L165.79,314.14 L170.79,315.38 L175.80,316.82 L180.80,318.49 L185.80,320.32 L190.80,322.28 L195.81,324.38 L200.81,326.67 L205.81,329.14 L210.82,331.76 L215.82,334.46 L220.82,337.25 L225.83,340.13 L230.83,343.10 L235.83,346.16 L240.84,349.32 L245.84,352.57 L250.84,355.91 L255.85,359.35 L260.85,362.98 L265.85,366.82 L270.86,370.86 L275.86,375.08 L280.86,379.49 L285.87,384.10 L290.87,388.97 L295.87,394.11 L300.88,399.51 L305.88,405.13 L310.88,410.98 L315.89,417.20 L320.89,423.62 L325.89,430.26 L330.90,437.29 L335.90,444.86" fill="none" stroke="#8A2E9C" stroke-width="1.3" stroke-dasharray="3.0 0.75 0.5 0.75" stroke-linejoin="round"/>
<path d="M30.70,309.41 L35.70,309.00 L40.71,308.69 L45.71,308.40 L50.71,308.06 L55.72,307.80 L60.72,307.70 L65.72,307.61 L70.73,307.43 L75.73,307.24 L80.73,307.12 L85.74,307.00 L90.74,306.80 L95.74,306.64 L100.75,306.59 L105.75,306.52 L110.75,306.44 L115.76,306.40 L120.76,306.41 L125.76,306.45 L130.77,306.52 L135.77,306.64 L140.77,306.89 L145.78,307.24 L150.78,307.63 L155.78,308.09 L160.79,308.62 L165.79,309.29 L170.79,310.20 L175.80,311.34 L180.80,312.75 L185.80,314.47 L190.80,316.66 L195.81,319.05 L200.81,321.33 L205.81,323.63 L210.82,326.03 L215.82,328.45 L220.82,330.86 L225.83,333.27 L230.83,335.63 L235.83,338.09 L240.84,340.90 L245.84,343.88 L250.84,346.84 L255.85,349.90 L260.85,353.08 L265.85,356.41 L270.86,359.92 L275.86,363.64 L280.86,367.61 L285.87,371.83 L290.87,376.25 L295.87,380.99 L300.88,386.22 L305.88,391.84 L310.88,397.86 L315.89,409.91 L320.89,422.92 L325.89,435.94 L330.90,449.19 L335.90,463.41" fill="none" stroke="#55B324" stroke-width="1.3" stroke-linejoin="round"/>
<path d="M28.50,309.41h4.4M30.70,307.21v4.4" stroke="#55B324" stroke-width="1.0" fill="none"/>
<path d="M33.50,309.00h4.4M35.70,306.80v4.4" stroke="#55B324" stroke-width="1.0" fill="none"/>
<path d="M38.51,308.69h4.4M40.71,306.49v4.4" stroke="#55B324" stroke-width="1.0" fill="none"/>
<path d="M43.51,308.40h4.4M45.71,306.20v4.4" stroke="#55B324" stroke-width="1.0" fill="none"/>
<path d="M48.51,308.06h4.4M50.71,305.86v4.4" stroke="#55B324" stroke-width="1.0" fill="none"/>
<path d="M53.52,307.80h4.4M55.72,305.60v4.4" stroke="#55B324" stroke-width="1.0" fill="none"/>
<path d="M58.52,307.70h4.4M60.72,305.50v4.4" stroke="#55B324" stroke-width="1.0" fill="none"/>
<path d="M63.52,307.61h4.4M65.72,305.41v4.4" stroke="#55B324" stroke-width="1.0" fill="none"/>
<path d="M68.53,307.43h4.4M70.73,305.23v4.4" stroke="#55B324" stroke-width="1.0" fill="none"/>
<path d="M73.53,307.24h4.4M75.73,305.04v4.4" stroke="#55B324" stroke-width="1.0" fill="none"/>
<path d="M78.53,307.12h4.4M80.73,304.92v4.4" stroke="#55B324" stroke-width="1.0" fill="none"/>
<path d="M83.54,307.00h4.4M85.74,304.80v4.4" stroke="#55B324" stroke-width="1.0" fill="none"/>
<path d="M88.54,306.80h4.4M90.74,304.60v4.4" stroke="#55B324" stroke-width="1.0" fill="none"/>
<path d="M93.54,306.64h4.4M95.74,304.44v4.4" stroke="#55B324" stroke-width="1.0" fill="none"/>
<path d="M98.55,306.59h4.4M100.75,304.39v4.4" stroke="#55B324" stroke-width="1.0" fill="none"/>
<path d="M103.55,306.52h4.4M105.75,304.32v4.4" stroke="#55B324" stroke-width="1.0" fill="none"/>
<path d="M108.55,306.44h4.4M110.75,304.24v4.4" stroke="#55B324" stroke-width="1.0" fill="none"/>
<path d="M113.56,306.40h4.4M115.76,304.20v4.4" stroke="#55B324" stroke-width="1.0" fill="none"/>
<path d="M118.56,306.41h4.4M120.76,304.21v4.4" stroke="#55B324" stroke-width="1.0" fill="none"/>
<path d="M123.56,306.45h4.4M125.76,304.25v4.4" stroke="#55B324" stroke-width="1.0" fill="none"/>
<path d="M128.57,306.52h4.4M130.77,304.32v4.4" stroke="#55B324" stroke-width="1.0" fill="none"/>
<path d="M133.57,306.64h4.4M135.77,304.44v4.4" stroke="#55B324" stroke-width="1.0" fill="none"/>
<path d="M138.57,306.89h4.4M140.77,304.69v4.4" stroke="#55B324" stroke-width="1.0" fill="none"/>
<path d="M143.58,307.24h4.4M145.78,305.04v4.4" stroke="#55B324" stroke-width="1.0" fill="none"/>
<path d="M148.58,307.63h4.4M150.78,305.43v4.4" stroke="#55B324" stroke-width="1.0" fill="none"/>
<path d="M153.58,308.09h4.4M155.78,305.89v4.4" stroke="#55B324" stroke-width="1.0" fill="none"/>
<path d="M158.59,308.62h4.4M160.79,306.42v4.4" stroke="#55B324" stroke-width="1.0" fill="none"/>
<path d="M163.59,309.29h4.4M165.79,307.09v4.4" stroke="#55B324" stroke-width="1.0" fill="none"/>
<path d="M168.59,310.20h4.4M170.79,308.00v4.4" stroke="#55B324" stroke-width="1.0" fill="none"/>
<path d="M173.60,311.34h4.4M175.80,309.14v4.4" stroke="#55B324" stroke-width="1.0" fill="none"/>
<path d="M178.60,312.75h4.4M180.80,310.55v4.4" stroke="#55B324" stroke-width="1.0" fill="none"/>
<path d="M183.60,314.47h4.4M185.80,312.27v4.4" stroke="#55B324" stroke-width="1.0" fill="none"/>
<path d="M188.60,316.66h4.4M190.80,314.46v4.4" stroke="#55B324" stroke-width="1.0" fill="none"/>
<path d="M193.61,319.05h4.4M195.81,316.85v4.4" stroke="#55B324" stroke-width="1.0" fill="none"/>
<path d="M198.61,321.33h4.4M200.81,319.13v4.4" stroke="#55B324" stroke-width="1.0" fill="none"/>
<path d="M203.61,323.63h4.4M205.81,321.43v4.4" stroke="#55B324" stroke-width="1.0" fill="none"/>
<path d="M208.62,326.03h4.4M210.82,323.83v4.4" stroke="#55B324" stroke-width="1.0" fill="none"/>
<path d="M213.62,328.45h4.4M215.82,326.25v4.4" stroke="#55B324" stroke-width="1.0" fill="none"/>
<path d="M218.62,330.86h4.4M220.82,328.66v4.4" stroke="#55B324" stroke-width="1.0" fill="none"/>
<path d="M223.63,333.27h4.4M225.83,331.07v4.4" stroke="#55B324" stroke-width="1.0" fill="none"/>
<path d="M228.63,335.63h4.4M230.83,333.43v4.4" stroke="#55B324" stroke-width="1.0" fill="none"/>
<path d="M233.63,338.09h4.4M235.83,335.89v4.4" stroke="#55B324" stroke-width="1.0" fill="none"/>
<path d="M238.64,340.90h4.4M240.84,338.70v4.4" stroke="#55B324" stroke-width="1.0" fill="none"/>
<path d="M243.64,343.88h4.4M245.84,341.68v4.4" stroke="#55B324" stroke-width="1.0" fill="none"/>
<path d="M248.64,346.84h4.4M250.84,344.64v4.4" stroke="#55B324" stroke-width="1.0" fill="none"/>
<path d="M253.65,349.90h4.4M255.85,347.70v4.4" stroke="#55B324" stroke-width="1.0" fill="none"/>
<path d="M258.65,353.08h4.4M260.85,350.88v4.4" stroke="#55B324" stroke-width="1.0" fill="none"/>
<path d="M263.65,356.41h4.4M265.85,354.21v4.4" stroke="#55B324" stroke-width="1.0" fill="none"/>
<path d="M268.66,359.92h4.4M270.86,357.72v4.4" stroke="#55B324" stroke-width="1.0" fill="none"/>
<path d="M273.66,363.64h4.4M275.86,361.44v4.4" stroke="#55B324" stroke-width="1.0" fill="none"/>
<path d="M278.66,367.61h4.4M280.86,365.41v4.4" stroke="#55B324" stroke-width="1.0" fill="none"/>
<path d="M283.67,371.83h4.4M285.87,369.63v4.4" stroke="#55B324" stroke-width="1.0" fill="none"/>
<path d="M288.67,376.25h4.4M290.87,374.05v4.4" stroke="#55B324" stroke-width="1.0" fill="none"/>
<path d="M293.67,380.99h4.4M295.87,378.79v4.4" stroke="#55B324" stroke-width="1.0" fill="none"/>
<path d="M298.68,386.22h4.4M300.88,384.02v4.4" stroke="#55B324" stroke-width="1.0" fill="none"/>
<path d="M303.68,391.84h4.4M305.88,389.64v4.4" stroke="#55B324" stroke-width="1.0" fill="none"/>
<path d="M308.68,397.86h4.4M310.88,395.66v4.4" stroke="#55B324" stroke-width="1.0" fill="none"/>
<path d="M313.69,409.91h4.4M315.89,407.71v4.4" stroke="#55B324" stroke-width="1.0" fill="none"/>
<path d="M318.69,422.92h4.4M320.89,420.72v4.4" stroke="#55B324" stroke-width="1.0" fill="none"/>
<path d="M323.69,435.94h4.4M325.89,433.74v4.4" stroke="#55B324" stroke-width="1.0" fill="none"/>
<path d="M328.70,449.19h4.4M330.90,446.99v4.4" stroke="#55B324" stroke-width="1.0" fill="none"/>
<path d="M333.70,463.41h4.4M335.90,461.21v4.4" stroke="#55B324" stroke-width="1.0" fill="none"/>
<path d="M30.70,309.41 L35.70,309.00 L40.71,308.69 L45.71,308.40 L50.71,308.06 L55.72,307.80 L60.72,307.70 L65.72,307.61 L70.73,307.43 L75.73,307.24 L80.73,307.12 L85.74,307.00 L90.74,306.80 L95.74,306.64 L100.75,306.59 L105.75,306.52 L110.75,306.44 L115.76,306.40 L120.76,306.42 L125.76,306.45 L130.77,306.51 L135.77,306.62 L140.77,306.83 L145.78,307.12 L150.78,307.45 L155.78,307.85 L160.79,308.34 L165.79,308.93 L170.79,309.58 L175.80,310.38 L180.80,311.54 L185.80,313.03 L190.80,314.92 L195.81,317.00 L200.81,318.97 L205.81,320.98 L210.82,323.13 L215.82,325.32 L220.82,327.47 L225.83,329.66 L230.83,331.90 L235.83,334.24 L240.84,336.72 L245.84,339.30 L250.84,341.95 L255.85,344.60 L260.85,347.13 L265.85,349.66 L270.86,352.22 L275.86,354.96 L280.86,358.21 L285.87,361.71 L290.87,365.25 L295.87,368.94 L300.88,372.85 L305.88,376.89 L310.88,380.99 L315.89,392.08 L320.89,403.16 L325.89,414.97 L330.90,427.02 L335.90,439.07" fill="none" stroke="#22BDF0" stroke-width="1.3" stroke-linejoin="round"/>
<circle cx="30.70" cy="309.41" r="1.5" fill="#c8ecfb" stroke="#22BDF0" stroke-width="1.35"/>
<circle cx="35.70" cy="309.00" r="1.5" fill="#c8ecfb" stroke="#22BDF0" stroke-width="1.35"/>
<circle cx="40.71" cy="308.69" r="1.5" fill="#c8ecfb" stroke="#22BDF0" stroke-width="1.35"/>
<circle cx="45.71" cy="308.40" r="1.5" fill="#c8ecfb" stroke="#22BDF0" stroke-width="1.35"/>
<circle cx="50.71" cy="308.06" r="1.5" fill="#c8ecfb" stroke="#22BDF0" stroke-width="1.35"/>
<circle cx="55.72" cy="307.80" r="1.5" fill="#c8ecfb" stroke="#22BDF0" stroke-width="1.35"/>
<circle cx="60.72" cy="307.70" r="1.5" fill="#c8ecfb" stroke="#22BDF0" stroke-width="1.35"/>
<circle cx="65.72" cy="307.61" r="1.5" fill="#c8ecfb" stroke="#22BDF0" stroke-width="1.35"/>
<circle cx="70.73" cy="307.43" r="1.5" fill="#c8ecfb" stroke="#22BDF0" stroke-width="1.35"/>
<circle cx="75.73" cy="307.24" r="1.5" fill="#c8ecfb" stroke="#22BDF0" stroke-width="1.35"/>
<circle cx="80.73" cy="307.12" r="1.5" fill="#c8ecfb" stroke="#22BDF0" stroke-width="1.35"/>
<circle cx="85.74" cy="307.00" r="1.5" fill="#c8ecfb" stroke="#22BDF0" stroke-width="1.35"/>
<circle cx="90.74" cy="306.80" r="1.5" fill="#c8ecfb" stroke="#22BDF0" stroke-width="1.35"/>
<circle cx="95.74" cy="306.64" r="1.5" fill="#c8ecfb" stroke="#22BDF0" stroke-width="1.35"/>
<circle cx="100.75" cy="306.59" r="1.5" fill="#c8ecfb" stroke="#22BDF0" stroke-width="1.35"/>
<circle cx="105.75" cy="306.52" r="1.5" fill="#c8ecfb" stroke="#22BDF0" stroke-width="1.35"/>
<circle cx="110.75" cy="306.44" r="1.5" fill="#c8ecfb" stroke="#22BDF0" stroke-width="1.35"/>
<circle cx="115.76" cy="306.40" r="1.5" fill="#c8ecfb" stroke="#22BDF0" stroke-width="1.35"/>
<circle cx="120.76" cy="306.42" r="1.5" fill="#c8ecfb" stroke="#22BDF0" stroke-width="1.35"/>
<circle cx="125.76" cy="306.45" r="1.5" fill="#c8ecfb" stroke="#22BDF0" stroke-width="1.35"/>
<circle cx="130.77" cy="306.51" r="1.5" fill="#c8ecfb" stroke="#22BDF0" stroke-width="1.35"/>
<circle cx="135.77" cy="306.62" r="1.5" fill="#c8ecfb" stroke="#22BDF0" stroke-width="1.35"/>
<circle cx="140.77" cy="306.83" r="1.5" fill="#c8ecfb" stroke="#22BDF0" stroke-width="1.35"/>
<circle cx="145.78" cy="307.12" r="1.5" fill="#c8ecfb" stroke="#22BDF0" stroke-width="1.35"/>
<circle cx="150.78" cy="307.45" r="1.5" fill="#c8ecfb" stroke="#22BDF0" stroke-width="1.35"/>
<circle cx="155.78" cy="307.85" r="1.5" fill="#c8ecfb" stroke="#22BDF0" stroke-width="1.35"/>
<circle cx="160.79" cy="308.34" r="1.5" fill="#c8ecfb" stroke="#22BDF0" stroke-width="1.35"/>
<circle cx="165.79" cy="308.93" r="1.5" fill="#c8ecfb" stroke="#22BDF0" stroke-width="1.35"/>
<circle cx="170.79" cy="309.58" r="1.5" fill="#c8ecfb" stroke="#22BDF0" stroke-width="1.35"/>
<circle cx="175.80" cy="310.38" r="1.5" fill="#c8ecfb" stroke="#22BDF0" stroke-width="1.35"/>
<circle cx="180.80" cy="311.54" r="1.5" fill="#c8ecfb" stroke="#22BDF0" stroke-width="1.35"/>
<circle cx="185.80" cy="313.03" r="1.5" fill="#c8ecfb" stroke="#22BDF0" stroke-width="1.35"/>
<circle cx="190.80" cy="314.92" r="1.5" fill="#c8ecfb" stroke="#22BDF0" stroke-width="1.35"/>
<circle cx="195.81" cy="317.00" r="1.5" fill="#c8ecfb" stroke="#22BDF0" stroke-width="1.35"/>
<circle cx="200.81" cy="318.97" r="1.5" fill="#c8ecfb" stroke="#22BDF0" stroke-width="1.35"/>
<circle cx="205.81" cy="320.98" r="1.5" fill="#c8ecfb" stroke="#22BDF0" stroke-width="1.35"/>
<circle cx="210.82" cy="323.13" r="1.5" fill="#c8ecfb" stroke="#22BDF0" stroke-width="1.35"/>
<circle cx="215.82" cy="325.32" r="1.5" fill="#c8ecfb" stroke="#22BDF0" stroke-width="1.35"/>
<circle cx="220.82" cy="327.47" r="1.5" fill="#c8ecfb" stroke="#22BDF0" stroke-width="1.35"/>
<circle cx="225.83" cy="329.66" r="1.5" fill="#c8ecfb" stroke="#22BDF0" stroke-width="1.35"/>
<circle cx="230.83" cy="331.90" r="1.5" fill="#c8ecfb" stroke="#22BDF0" stroke-width="1.35"/>
<circle cx="235.83" cy="334.24" r="1.5" fill="#c8ecfb" stroke="#22BDF0" stroke-width="1.35"/>
<circle cx="240.84" cy="336.72" r="1.5" fill="#c8ecfb" stroke="#22BDF0" stroke-width="1.35"/>
<circle cx="245.84" cy="339.30" r="1.5" fill="#c8ecfb" stroke="#22BDF0" stroke-width="1.35"/>
<circle cx="250.84" cy="341.95" r="1.5" fill="#c8ecfb" stroke="#22BDF0" stroke-width="1.35"/>
<circle cx="255.85" cy="344.60" r="1.5" fill="#c8ecfb" stroke="#22BDF0" stroke-width="1.35"/>
<circle cx="260.85" cy="347.13" r="1.5" fill="#c8ecfb" stroke="#22BDF0" stroke-width="1.35"/>
<circle cx="265.85" cy="349.66" r="1.5" fill="#c8ecfb" stroke="#22BDF0" stroke-width="1.35"/>
<circle cx="270.86" cy="352.22" r="1.5" fill="#c8ecfb" stroke="#22BDF0" stroke-width="1.35"/>
<circle cx="275.86" cy="354.96" r="1.5" fill="#c8ecfb" stroke="#22BDF0" stroke-width="1.35"/>
<circle cx="280.86" cy="358.21" r="1.5" fill="#c8ecfb" stroke="#22BDF0" stroke-width="1.35"/>
<circle cx="285.87" cy="361.71" r="1.5" fill="#c8ecfb" stroke="#22BDF0" stroke-width="1.35"/>
<circle cx="290.87" cy="365.25" r="1.5" fill="#c8ecfb" stroke="#22BDF0" stroke-width="1.35"/>
<circle cx="295.87" cy="368.94" r="1.5" fill="#c8ecfb" stroke="#22BDF0" stroke-width="1.35"/>
<circle cx="300.88" cy="372.85" r="1.5" fill="#c8ecfb" stroke="#22BDF0" stroke-width="1.35"/>
<circle cx="305.88" cy="376.89" r="1.5" fill="#c8ecfb" stroke="#22BDF0" stroke-width="1.35"/>
<circle cx="310.88" cy="380.99" r="1.5" fill="#c8ecfb" stroke="#22BDF0" stroke-width="1.35"/>
<circle cx="315.89" cy="392.08" r="1.5" fill="#c8ecfb" stroke="#22BDF0" stroke-width="1.35"/>
<circle cx="320.89" cy="403.16" r="1.5" fill="#c8ecfb" stroke="#22BDF0" stroke-width="1.35"/>
<circle cx="325.89" cy="414.97" r="1.5" fill="#c8ecfb" stroke="#22BDF0" stroke-width="1.35"/>
<circle cx="330.90" cy="427.02" r="1.5" fill="#c8ecfb" stroke="#22BDF0" stroke-width="1.35"/>
<circle cx="335.90" cy="439.07" r="1.5" fill="#c8ecfb" stroke="#22BDF0" stroke-width="1.35"/>
<path d="M30.70,309.41 L35.70,309.00 L40.71,308.69 L45.71,308.40 L50.71,308.06 L55.72,307.80 L60.72,307.70 L65.72,307.61 L70.73,307.43 L75.73,307.24 L80.73,307.12 L85.74,307.00 L90.74,306.80 L95.74,306.64 L100.75,306.59 L105.75,306.52 L110.75,306.44 L115.76,306.40 L120.76,306.42 L125.76,306.45 L130.77,306.50 L135.77,306.59 L140.77,306.76 L145.78,307.00 L150.78,307.27 L155.78,307.61 L160.79,308.06 L165.79,308.59 L170.79,309.13 L175.80,309.77 L180.80,310.76 L185.80,311.99 L190.80,313.42 L195.81,315.00 L200.81,316.67 L205.81,318.40 L210.82,320.17 L215.82,321.95 L220.82,323.67 L225.83,325.44 L230.83,327.39 L235.83,329.42 L240.84,331.46 L245.84,333.51 L250.84,335.55 L255.85,337.61 L260.85,339.78 L265.85,341.95 L270.86,343.98 L275.86,346.05 L280.86,348.29 L285.87,350.62 L290.87,352.99 L295.87,355.44 L300.88,358.10 L305.88,360.50 L310.88,363.16 L315.89,372.07 L320.89,381.95 L325.89,393.04 L330.90,403.64 L335.90,414.49" fill="none" stroke="#C40C2E" stroke-width="1.3" stroke-linejoin="round"/>
<rect x="28.80" y="307.51" width="3.8" height="3.8" rx="1.2" fill="#C40C2E"/>
<rect x="33.80" y="307.10" width="3.8" height="3.8" rx="1.2" fill="#C40C2E"/>
<rect x="38.81" y="306.79" width="3.8" height="3.8" rx="1.2" fill="#C40C2E"/>
<rect x="43.81" y="306.50" width="3.8" height="3.8" rx="1.2" fill="#C40C2E"/>
<rect x="48.81" y="306.16" width="3.8" height="3.8" rx="1.2" fill="#C40C2E"/>
<rect x="53.82" y="305.90" width="3.8" height="3.8" rx="1.2" fill="#C40C2E"/>
<rect x="58.82" y="305.80" width="3.8" height="3.8" rx="1.2" fill="#C40C2E"/>
<rect x="63.82" y="305.71" width="3.8" height="3.8" rx="1.2" fill="#C40C2E"/>
<rect x="68.83" y="305.53" width="3.8" height="3.8" rx="1.2" fill="#C40C2E"/>
<rect x="73.83" y="305.34" width="3.8" height="3.8" rx="1.2" fill="#C40C2E"/>
<rect x="78.83" y="305.22" width="3.8" height="3.8" rx="1.2" fill="#C40C2E"/>
<rect x="83.84" y="305.10" width="3.8" height="3.8" rx="1.2" fill="#C40C2E"/>
<rect x="88.84" y="304.90" width="3.8" height="3.8" rx="1.2" fill="#C40C2E"/>
<rect x="93.84" y="304.74" width="3.8" height="3.8" rx="1.2" fill="#C40C2E"/>
<rect x="98.85" y="304.69" width="3.8" height="3.8" rx="1.2" fill="#C40C2E"/>
<rect x="103.85" y="304.62" width="3.8" height="3.8" rx="1.2" fill="#C40C2E"/>
<rect x="108.85" y="304.54" width="3.8" height="3.8" rx="1.2" fill="#C40C2E"/>
<rect x="113.86" y="304.50" width="3.8" height="3.8" rx="1.2" fill="#C40C2E"/>
<rect x="118.86" y="304.52" width="3.8" height="3.8" rx="1.2" fill="#C40C2E"/>
<rect x="123.86" y="304.55" width="3.8" height="3.8" rx="1.2" fill="#C40C2E"/>
<rect x="128.87" y="304.60" width="3.8" height="3.8" rx="1.2" fill="#C40C2E"/>
<rect x="133.87" y="304.69" width="3.8" height="3.8" rx="1.2" fill="#C40C2E"/>
<rect x="138.87" y="304.86" width="3.8" height="3.8" rx="1.2" fill="#C40C2E"/>
<rect x="143.88" y="305.10" width="3.8" height="3.8" rx="1.2" fill="#C40C2E"/>
<rect x="148.88" y="305.37" width="3.8" height="3.8" rx="1.2" fill="#C40C2E"/>
<rect x="153.88" y="305.71" width="3.8" height="3.8" rx="1.2" fill="#C40C2E"/>
<rect x="158.89" y="306.16" width="3.8" height="3.8" rx="1.2" fill="#C40C2E"/>
<rect x="163.89" y="306.69" width="3.8" height="3.8" rx="1.2" fill="#C40C2E"/>
<rect x="168.89" y="307.23" width="3.8" height="3.8" rx="1.2" fill="#C40C2E"/>
<rect x="173.90" y="307.87" width="3.8" height="3.8" rx="1.2" fill="#C40C2E"/>
<rect x="178.90" y="308.86" width="3.8" height="3.8" rx="1.2" fill="#C40C2E"/>
<rect x="183.90" y="310.09" width="3.8" height="3.8" rx="1.2" fill="#C40C2E"/>
<rect x="188.90" y="311.52" width="3.8" height="3.8" rx="1.2" fill="#C40C2E"/>
<rect x="193.91" y="313.10" width="3.8" height="3.8" rx="1.2" fill="#C40C2E"/>
<rect x="198.91" y="314.77" width="3.8" height="3.8" rx="1.2" fill="#C40C2E"/>
<rect x="203.91" y="316.50" width="3.8" height="3.8" rx="1.2" fill="#C40C2E"/>
<rect x="208.92" y="318.27" width="3.8" height="3.8" rx="1.2" fill="#C40C2E"/>
<rect x="213.92" y="320.05" width="3.8" height="3.8" rx="1.2" fill="#C40C2E"/>
<rect x="218.92" y="321.77" width="3.8" height="3.8" rx="1.2" fill="#C40C2E"/>
<rect x="223.93" y="323.54" width="3.8" height="3.8" rx="1.2" fill="#C40C2E"/>
<rect x="228.93" y="325.49" width="3.8" height="3.8" rx="1.2" fill="#C40C2E"/>
<rect x="233.93" y="327.52" width="3.8" height="3.8" rx="1.2" fill="#C40C2E"/>
<rect x="238.94" y="329.56" width="3.8" height="3.8" rx="1.2" fill="#C40C2E"/>
<rect x="243.94" y="331.61" width="3.8" height="3.8" rx="1.2" fill="#C40C2E"/>
<rect x="248.94" y="333.65" width="3.8" height="3.8" rx="1.2" fill="#C40C2E"/>
<rect x="253.95" y="335.71" width="3.8" height="3.8" rx="1.2" fill="#C40C2E"/>
<rect x="258.95" y="337.88" width="3.8" height="3.8" rx="1.2" fill="#C40C2E"/>
<rect x="263.95" y="340.05" width="3.8" height="3.8" rx="1.2" fill="#C40C2E"/>
<rect x="268.96" y="342.08" width="3.8" height="3.8" rx="1.2" fill="#C40C2E"/>
<rect x="273.96" y="344.15" width="3.8" height="3.8" rx="1.2" fill="#C40C2E"/>
<rect x="278.96" y="346.39" width="3.8" height="3.8" rx="1.2" fill="#C40C2E"/>
<rect x="283.97" y="348.72" width="3.8" height="3.8" rx="1.2" fill="#C40C2E"/>
<rect x="288.97" y="351.09" width="3.8" height="3.8" rx="1.2" fill="#C40C2E"/>
<rect x="293.97" y="353.54" width="3.8" height="3.8" rx="1.2" fill="#C40C2E"/>
<rect x="298.98" y="356.20" width="3.8" height="3.8" rx="1.2" fill="#C40C2E"/>
<rect x="303.98" y="358.61" width="3.8" height="3.8" rx="1.2" fill="#C40C2E"/>
<rect x="308.98" y="361.26" width="3.8" height="3.8" rx="1.2" fill="#C40C2E"/>
<rect x="313.99" y="370.17" width="3.8" height="3.8" rx="1.2" fill="#C40C2E"/>
<rect x="318.99" y="380.05" width="3.8" height="3.8" rx="1.2" fill="#C40C2E"/>
<rect x="323.99" y="391.14" width="3.8" height="3.8" rx="1.2" fill="#C40C2E"/>
<rect x="329.00" y="401.74" width="3.8" height="3.8" rx="1.2" fill="#C40C2E"/>
<rect x="334.00" y="412.59" width="3.8" height="3.8" rx="1.2" fill="#C40C2E"/>
<path d="M37.9,441.00H50.6" stroke="#1477C6" stroke-width="1.3"/>
<text x="52" y="443.20" font-size="6.2" fill="#1c1c1c">Baseline Scenario</text>
<path d="M37.9,449.67H50.6" stroke="#E5551A" stroke-width="1.3" stroke-dasharray="3.5 3.2"/>
<text x="52" y="451.87" font-size="6.2" fill="#1c1c1c">Fertility scenario 1, a=0.65</text>
<path d="M37.9,458.34H50.6" stroke="#F3C85F" stroke-width="1.3"/>
<text x="52" y="460.54" font-size="6.2" fill="#1c1c1c">Fertility scenario 1, a=0.8</text>
<path d="M37.9,467.01H50.6" stroke="#8A2E9C" stroke-width="1.3" stroke-dasharray="2.5 0.9"/>
<text x="52" y="469.21" font-size="6.2" fill="#1c1c1c">Fertility scenario 1, a=1.0</text>
<path d="M37.9,475.68H50.6" stroke="#55B324" stroke-width="1.3"/>
<path d="M42.05,475.68h4.4M44.25,473.48v4.4" stroke="#55B324" stroke-width="1.0" fill="none"/>
<text x="52" y="477.88" font-size="6.2" fill="#1c1c1c">Fertility scenario 6, a=0.6</text>
<path d="M37.9,484.35H50.6" stroke="#22BDF0" stroke-width="1.3"/>
<circle cx="44.25" cy="484.35" r="1.5" fill="#c8ecfb" stroke="#22BDF0" stroke-width="1.35"/>
<text x="52" y="486.55" font-size="6.2" fill="#1c1c1c">Fertility scenario 6, a=0.8</text>
<path d="M37.9,493.02H50.6" stroke="#C40C2E" stroke-width="1.3"/>
<rect x="42.35" y="491.12" width="3.8" height="3.8" rx="1.2" fill="#C40C2E"/>
<text x="52" y="495.22" font-size="6.2" fill="#1c1c1c">Fertility scenario 6, a=1.0</text>
<text x="176" y="544.8" font-size="9" font-weight="bold" text-anchor="middle" font-family="Liberation Serif, serif" fill="#222">(b)</text>
</g>
</svg>
</body></html>
